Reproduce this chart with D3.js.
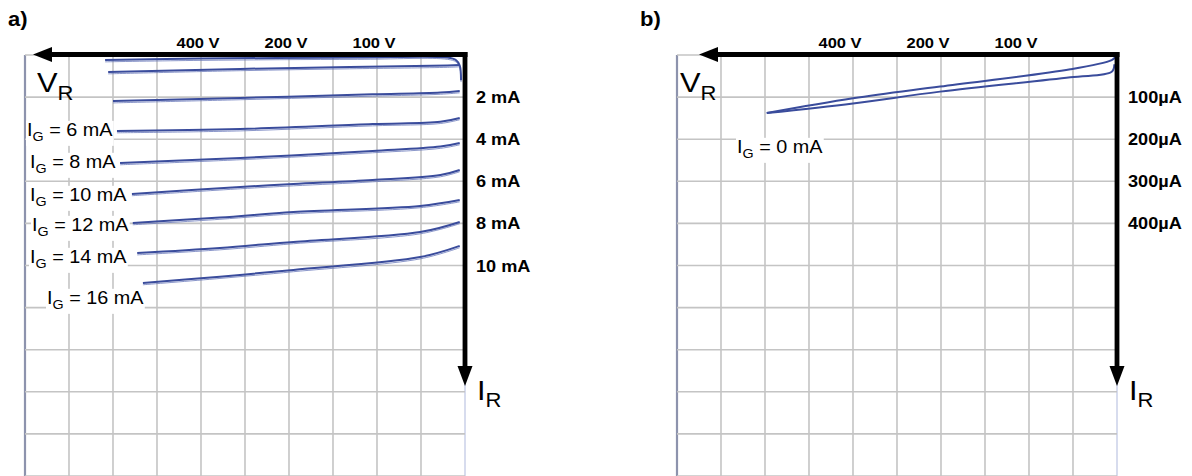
<!DOCTYPE html>
<html><head><meta charset="utf-8">
<script src="https://cdn.jsdelivr.net/npm/d3@7"></script>
<style>body{margin:0;background:#fff}svg{display:block}</style>
</head><body>
<svg id="c" width="1192" height="476"></svg>
<script>
// ---------- data ----------
// reverse voltage axis: grid divisions expressed in volts (as labelled on the trace)
const gridVolts = [0, 50, 100, 150, 200, 300, 400, 500, 600, 700, 800];
const voltTicks = [400, 200, 100];
const voltTickLabels = ["400 V", "200 V", "100 V"];
// panel a: I_R in mA
const currentTicksA = [2, 4, 6, 8, 10];
const currentTickLabelsA = ["2 mA", "4 mA", "6 mA", "8 mA", "10 mA"];
// panel b: I_R in µA
const currentTicksB = [100, 200, 300, 400];
const currentTickLabelsB = ["100µA", "200µA", "300µA", "400µA"];

// panel a traces: [V_R (V), I_R (mA)]
const labelledGateCurrents = ["6", "8", "10", "12", "14", "16"];
const traceIG0  = [[618,0.24],[402,0.17],[122,0.12],[20,0.12],[10,0.25],[6,0.5],[4.5,1.2]];
const traceIG2  = [[611,0.81],[311,0.66],[131,0.57],[20,0.50],[6,0.475]];
const traceIG4  = [[600,2.19],[311,2.04],[105,1.87],[28,1.78],[6,1.71]];
const traceIG6  = [[591,3.61],[311,3.52],[105,3.28],[28,3.17],[6,2.99]];
const traceIG8  = [[584,5.13],[311,4.89],[105,4.56],[28,4.35],[6,4.18]];
const traceIG10 = [[557,6.60],[311,6.27],[195,6.13],[105,5.94],[28,5.70],[6,5.46]];
const traceIG12 = [[555,7.98],[357,7.72],[195,7.46],[51,7.17],[6,6.89]];
const traceIG14 = [[545,9.41],[357,9.17],[195,8.88],[51,8.41],[6,7.93]];
const traceIG16 = [[532,10.83],[357,10.53],[195,10.21],[51,9.60],[6,9.07]];
// panel b: I_G = 0 mA, two branches, [V_R (V), I_R (µA)]
const traceB_up   = [[596,138],[400,103],[202,75],[53,34],[6,12],[2,5]];
const traceB_down = [[596,138],[400,115],[202,87],[53,53],[6,40],[3,22]];

// ---------- drawing ----------
const svg = d3.select("#c");
svg.append("rect").attr("width",1192).attr("height",476).attr("fill","#fff");
const FONT = "Liberation Sans, Arial, Helvetica, sans-serif";
const SX = 1.1; // horizontal stretch of the original picture
const yTop = 55, yBottom = 476;

function panel(cfg) {
  const g = svg.append("g");
  const x = d3.scaleLinear()
    .domain([0, 100, 200, 400, 800])
    .range([cfg.right, cfg.right - 88, cfg.right - 176, cfg.right - 264, cfg.left]);
  const y = d3.scaleLinear().domain([0, cfg.yMax]).range([yTop, yBottom]);

  // grid
  const grid = g.append("g");
  grid.selectAll("line.v").data(gridVolts).join("line")
    .attr("x1", d => x(d)).attr("x2", d => x(d)).attr("y1", yTop).attr("y2", yBottom)
    .attr("stroke", (d,i) => i === gridVolts.length-1 ? "#8d93ad" : (i === 0 ? "#cdd4ea" : "#c4c4c4"))
    .attr("stroke-width", (d,i) => i === gridVolts.length-1 ? 2.2 : 1.6);
  grid.selectAll("line.h").data(d3.range(0, cfg.yMax + 1e-9, cfg.yMax/10)).join("line")
    .attr("x1", cfg.left).attr("x2", cfg.right).attr("y1", d => y(d)).attr("y2", d => y(d))
    .attr("stroke", "#c4c4c4").attr("stroke-width", 1.6);

  // traces
  const line = d3.line().x(d => x(d[0])).y(d => y(d[1])).curve(d3.curveCatmullRom.alpha(0.5));
  cfg.traces.forEach(t => {
    if (cfg.ghost) {
      g.append("path").attr("d", line(t)).attr("fill","none")
        .attr("stroke","#6474b8").attr("stroke-width",1).attr("opacity",0.75)
        .attr("transform","translate(0,1.8)");
    }
    g.append("path").attr("d", line(t)).attr("fill","none")
      .attr("stroke","#3a4c9c").attr("stroke-width",2);
  });

  // axes arrows
  const ax = cfg.right, ay = 54.5;
  g.append("line").attr("x1", ax + 2.5).attr("x2", cfg.left + cfg.tip + 16).attr("y1", ay).attr("y2", ay)
    .attr("stroke","#000").attr("stroke-width",4.8);
  g.append("path").attr("d", `M${cfg.left+cfg.tip},${ay} L${cfg.left+cfg.tip+19},${ay-7.5} L${cfg.left+cfg.tip+19},${ay+7.5}Z`).attr("fill","#000");
  g.append("line").attr("x1", ax).attr("x2", ax).attr("y1", ay - 2.4).attr("y2", 368)
    .attr("stroke","#000").attr("stroke-width",4.8);
  g.append("path").attr("d", `M${ax},386 L${ax-7.5},366 L${ax+7.5},366Z`).attr("fill","#000");

  // voltage tick labels
  g.selectAll("text.vt").data(voltTicks).join("text")
    .attr("transform", (d) => `translate(${x(d) + cfg.vdx},48) scale(${SX},1)`)
    .attr("text-anchor","middle").attr("font-family",FONT).attr("font-weight","bold")
    .attr("font-size",15).text((d,i) => voltTickLabels[i]);
  // current tick labels
  g.selectAll("text.it").data(cfg.yTicks).join("text")
    .attr("transform", d => `translate(${cfg.right + 11},${y(d) + 6}) scale(${SX},1)`)
    .attr("font-family",FONT).attr("font-weight","bold").attr("font-size",16.5)
    .text((d,i) => cfg.yTickLabels[i]);

  // panel letter
  g.append("text").attr("transform", `translate(${cfg.letterX},26) scale(${SX},1)`)
    .attr("font-family",FONT).attr("font-weight","bold").attr("font-size",20).text(cfg.letter);

  // V_R and I_R
  const vr = g.append("text").attr("transform", `translate(${cfg.left + cfg.vrdx},92) scale(${SX},1)`)
    .attr("font-family",FONT).attr("font-size",28);
  vr.append("tspan").text("V");
  vr.append("tspan").attr("font-size",20).attr("dy",8).text("R");
  const ir = g.append("text").attr("transform", `translate(${cfg.right + 12},400) scale(${SX},1)`)
    .attr("font-family",FONT).attr("font-size",28);
  ir.append("tspan").text("I");
  ir.append("tspan").attr("font-size",20).attr("dy",7).text("R");
  return {g, x, y};
}

function igLabel(g, px, py, value) {
  const t = g.append("text").attr("transform", `translate(${px},${py}) scale(${SX},1)`)
    .attr("font-family",FONT).attr("font-size",18);
  t.append("tspan").text("I");
  t.append("tspan").attr("font-size",13).attr("dy",5).text("G");
  t.append("tspan").attr("dy",-5).text(` = ${value} mA`);
  const bb = t.node().getBBox();
  g.insert("rect", function(){ return t.node(); })
    .attr("x", px + bb.x*SX - 1).attr("y", py + bb.y + 1).attr("width", bb.width*SX + 2).attr("height", bb.height + 1)
    .attr("fill","#fff");
}

const A = panel({left:25, right:465, yMax:20, yTicks:currentTicksA, yTickLabels:currentTickLabelsA,
  traces:[traceIG0,traceIG2,traceIG4,traceIG6,traceIG8,traceIG10,traceIG12,traceIG14,traceIG16],
  ghost:true, tip:8, vdx:-3, letter:"a)", letterX:8, vrdx:12});
const B = panel({left:677, right:1117, yMax:1000, yTicks:currentTicksB, yTickLabels:currentTickLabelsB,
  traces:[traceB_up, traceB_down], ghost:false, tip:22, vdx:-13, letter:"b)", letterX:640, vrdx:3});

// gate current labels, placed at the start of their trace
const labelPos = [[27,136],[30,168],[30,201],[32,231],[30,263],[47,304]];
labelledGateCurrents.forEach((v,i) => igLabel(A.g, labelPos[i][0], labelPos[i][1], v));
igLabel(B.g, 737, 153, "0");
</script>
</body></html>
